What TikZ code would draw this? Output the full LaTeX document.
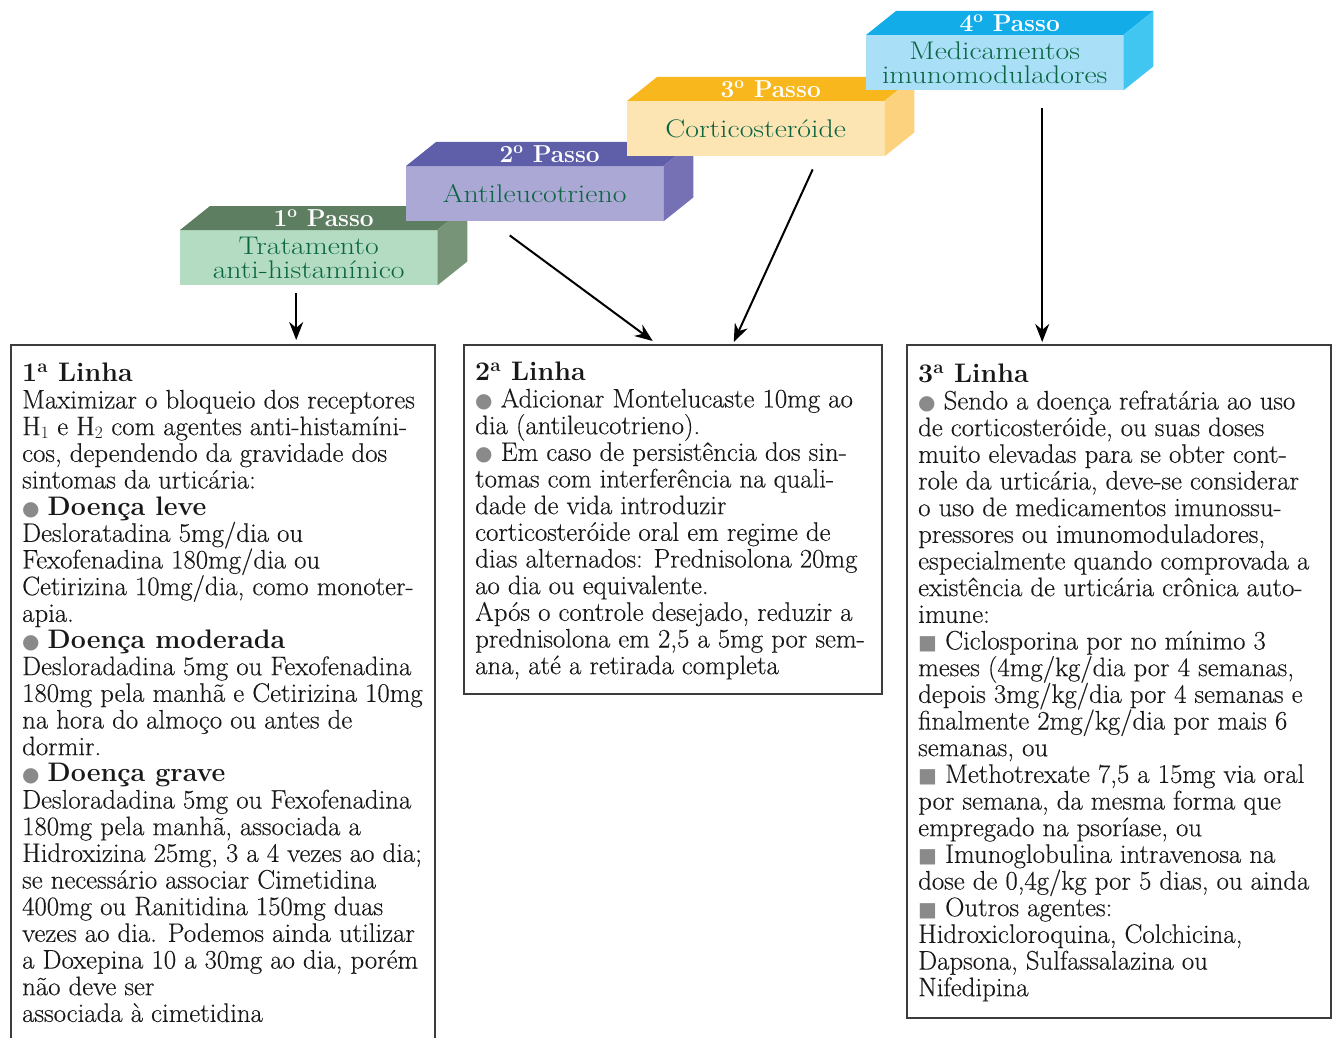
\documentclass[tikz,border=0pt]{standalone}
\usepackage{fontspec}
\setmainfont{Latin Modern Roman}[UprightFeatures={FakeBold=0.3}]
\usepackage{tikz}
\usetikzlibrary{shapes,arrows,arrows.meta}
\newfontfamily\symfont{DejaVu Sans}
\newfontfamily\stepfont{Latin Modern Roman}[FakeStretch=1.17]
\lineskiplimit=-100pt

\definecolor{greenfront}{HTML}{B4DCC2}
\definecolor{greentop}{HTML}{5E7E62}
\definecolor{greenside}{HTML}{789478}
\definecolor{violetfront}{HTML}{ACA8D5}
\definecolor{violettop}{HTML}{5F5FA9}
\definecolor{violetside}{HTML}{7670B5}
\definecolor{orangefront}{HTML}{FDE4B3}
\definecolor{orangetop}{HTML}{F8B71C}
\definecolor{orangeside}{HTML}{FDD27E}
\definecolor{cyanfront}{HTML}{A9E0F8}
\definecolor{cyantop}{HTML}{12ADE9}
\definecolor{cyanside}{HTML}{40C6F1}
\definecolor{stepgreen}{HTML}{0B6543}
\definecolor{inkblack}{HTML}{1A1718}
\definecolor{framegray}{HTML}{3C3C3C}
\definecolor{bulletgray}{HTML}{8A8A8A}

\newcommand\rbul{{\symfont\fontsize{20}{20}\selectfont\textcolor{bulletgray}{●}}}
\newcommand\sbul{{\symfont\fontsize{20}{20}\selectfont\textcolor{bulletgray}{■}}}

\begin{document}
\begin{tikzpicture}[x=1pt,y=-1pt,
    stepfront/.style={minimum width=257, minimum height=55, inner sep=0, anchor=north west,
      align=center, text=stepgreen, font=\stepfont\fontsize{25.5}{24}\selectfont},
    steptitle/.style={text=white, inner sep=0, font=\bfseries\fontsize{24.5}{24}\selectfont},
    linebox/.style={draw=framegray, line width=1.5, anchor=north west, inner sep=0},
    linetext/.style={anchor=north west, align=left, inner sep=0, text=inkblack,
      font=\fontsize{26.8}{26.67}\selectfont},
    arr/.style={-{Stealth[length=18pt,width=14pt]}, line width=2}]
  \useasboundingbox (0,0) rectangle (1333,1038);

  % 1o passo
  \node[stepfront, fill=greenfront] (s1) at (180,230) {Tratamento\\anti-histamínico};
  \fill[greentop] (s1.north west) -- ([shift={(30,-24)}]s1.north west) -- ([shift={(30,-24)}]s1.north east) -- (s1.north east) -- cycle;
  \fill[greenside] (s1.north east) -- ([shift={(30,-24)}]s1.north east) -- ([shift={(30,-24)}]s1.south east) -- (s1.south east) -- cycle;
  \node[steptitle] (p1) at ([shift={(15,-12)}]s1.north) {1\textsuperscript{o} Passo};

  % 2o passo
  \node[stepfront, fill=violetfront] (s2) at (406,166) {Antileucotrieno};
  \fill[violettop] (s2.north west) -- ([shift={(30,-24)}]s2.north west) -- ([shift={(30,-24)}]s2.north east) -- (s2.north east) -- cycle;
  \fill[violetside] (s2.north east) -- ([shift={(30,-24)}]s2.north east) -- ([shift={(30,-24)}]s2.south east) -- (s2.south east) -- cycle;
  \node[steptitle] (p2) at ([shift={(15,-12)}]s2.north) {2\textsuperscript{o} Passo};

  % 3o passo
  \node[stepfront, fill=orangefront] (s3) at (627,101) {Corticosteróide};
  \fill[orangetop] (s3.north west) -- ([shift={(30,-24)}]s3.north west) -- ([shift={(30,-24)}]s3.north east) -- (s3.north east) -- cycle;
  \fill[orangeside] (s3.north east) -- ([shift={(30,-24)}]s3.north east) -- ([shift={(30,-24)}]s3.south east) -- (s3.south east) -- cycle;
  \node[steptitle] (p3) at ([shift={(15,-12)}]s3.north) {3\textsuperscript{o} Passo};

  % 4o passo
  \node[stepfront, fill=cyanfront] (s4) at (866,35) {Medicamentos\\imunomoduladores};
  \fill[cyantop] (s4.north west) -- ([shift={(30,-24)}]s4.north west) -- ([shift={(30,-24)}]s4.north east) -- (s4.north east) -- cycle;
  \fill[cyanside] (s4.north east) -- ([shift={(30,-24)}]s4.north east) -- ([shift={(30,-24)}]s4.south east) -- (s4.south east) -- cycle;
  \node[steptitle] (p4) at ([shift={(15,-12)}]s4.north) {4\textsuperscript{o} Passo};

  % linhas de tratamento
  \node[linebox, minimum width=424, minimum height=710] (l1) at (10,344) {};
  \node[linebox, minimum width=418, minimum height=349] (l2) at (463,344) {};
  \node[linebox, minimum width=424, minimum height=673] (l3) at (906,344) {};

  \node[linetext] (x1) at ([shift={(12,19)}]l1.north west) {%
    \textbf{1\textsuperscript{a} Linha}\\
    Maximizar o bloqueio dos receptores\\
    H$_1$ e H$_2$ com agentes anti-histamíni-\\
    cos, dependendo da gravidade dos\\
    sintomas da urticária:\\
    \rbul\ \textbf{Doença leve}\\
    Desloratadina 5mg/dia ou\\
    Fexofenadina 180mg/dia ou\\
    Cetirizina 10mg/dia, como monoter-\\
    apia.\\
    \rbul\ \textbf{Doença moderada}\\
    Desloradadina 5mg ou Fexofenadina\\
    180mg pela manhã e Cetirizina 10mg\\
    na hora do almoço ou antes de\\
    dormir.\\
    \rbul\ \textbf{Doença grave}\\
    Desloradadina 5mg ou Fexofenadina\\
    180mg pela manhã, associada a\\
    Hidroxizina 25mg, 3 a 4 vezes ao dia;\\
    se necessário associar Cimetidina\\
    400mg ou Ranitidina 150mg duas\\
    vezes ao dia. Podemos ainda utilizar\\
    a Doxepina 10 a 30mg ao dia, porém\\
    não deve ser\\
    associada à cimetidina};

  \node[linetext] (x2) at ([shift={(12,18)}]l2.north west) {%
    \textbf{2\textsuperscript{a} Linha}\\
    \rbul\ Adicionar Montelucaste 10mg ao\\
    dia (antileucotrieno).\\
    \rbul\ Em caso de persistência dos sin-\\
    tomas com interferência na quali-\\
    dade de vida introduzir\\
    corticosteróide oral em regime de\\
    dias alternados: Prednisolona 20mg\\
    ao dia ou equivalente.\\
    Após o controle desejado, reduzir a\\
    prednisolona em 2,5 a 5mg por sem-\\
    ana, até a retirada completa};

  \node[linetext] (x3) at ([shift={(12,20)}]l3.north west) {%
    \textbf{3\textsuperscript{a} Linha}\\
    \rbul\ Sendo a doença refratária ao uso\\
    de corticosteróide, ou suas doses\\
    muito elevadas para se obter cont-\\
    role da urticária, deve-se considerar\\
    o uso de medicamentos imunossu-\\
    pressores ou imunomoduladores,\\
    especialmente quando comprovada a\\
    existência de urticária crônica auto-\\
    imune:\\
    \sbul\ Ciclosporina por no mínimo 3\\
    meses (4mg/kg/dia por 4 semanas,\\
    depois 3mg/kg/dia por 4 semanas e\\
    finalmente 2mg/kg/dia por mais 6\\
    semanas, ou\\
    \sbul\ Methotrexate 7,5 a 15mg via oral\\
    por semana, da mesma forma que\\
    empregado na psoríase, ou\\
    \sbul\ Imunoglobulina intravenosa na\\
    dose de 0,4g/kg por 5 dias, ou ainda\\
    \sbul\ Outros agentes:\\
    Hidroxicloroquina, Colchicina,\\
    Dapsona, Sulfassalazina ou\\
    Nifedipina};

  % setas
  \draw[arr] ([shift={(-12.5,8)}]s1.south) -- ([shift={(73.45,-4)}]l1.north);
  \draw[arr] ([shift={(-25,14)}]s2.south) -- ([shift={(-20,-3)}]l2.north);
  \draw[arr] ([shift={(57,13)}]s3.south) -- ([shift={(61,-2)}]l2.north);
  \draw[arr] ([shift={(47.5,18)}]s4.south) -- ([shift={(-76.55,-2)}]l3.north);
\end{tikzpicture}
\end{document}
